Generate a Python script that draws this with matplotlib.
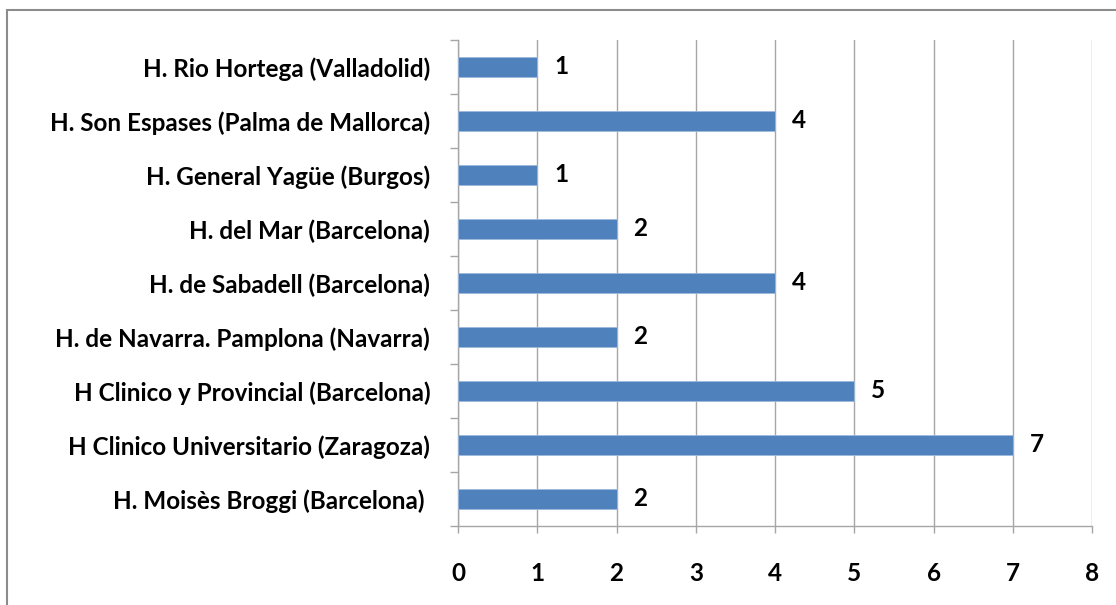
import matplotlib
matplotlib.use("Agg")
import matplotlib.pyplot as plt
from matplotlib.patches import Rectangle
import numpy as np

# hospitales, de arriba abajo tal como aparecen en el gráfico
hospitales = [
    "H. Rio Hortega (Valladolid)",
    "H. Son Espases (Palma de Mallorca)",
    "H. General Yagüe (Burgos)",
    "H. del Mar (Barcelona)",
    "H. de Sabadell (Barcelona)",
    "H. de Navarra. Pamplona (Navarra)",
    "H Clinico y Provincial (Barcelona)",
    "H Clinico Universitario (Zaragoza)",
    "H. Moisès Broggi (Barcelona) ",
]
casos = [1, 4, 1, 2, 4, 2, 5, 7, 2]
xticks = [0, 1, 2, 3, 4, 5, 6, 7, 8]

BLUE = "#4F81BD"
GRID = "#A6A6A6"
FONT = ["Lato", "DejaVu Sans"]
FS = 17.5

plt.rcParams["font.family"] = FONT

fig = plt.figure(figsize=(11.16, 6.05), dpi=100)
ax = fig.add_axes([458 / 1116, 1 - 526 / 605, (1092 - 458) / 1116, (526 - 40) / 605])

# marco gris de la figura (sale por la derecha y por abajo)
fig.patches.append(Rectangle((7 / 1116, -0.05), 1.2, 1 - 10 / 605 + 0.05,
                             transform=fig.transFigure, fill=False,
                             edgecolor="#8C8C8C", linewidth=1.5, zorder=0))

y = np.arange(len(hospitales))
ax.barh(y, casos, height=0.38, color=BLUE, edgecolor="#9DB9DC", linewidth=0.6, zorder=3)

for yi, v in zip(y, casos):
    ax.annotate(str(v), (v, yi), xytext=(12, 0), textcoords="offset points",
                ha="left", va="center", fontsize=FS, fontweight="bold", color="black")

ax.set_xlim(0, 8)
ax.set_ylim(len(hospitales) - 0.5, -0.5)
ax.set_xticks(xticks)
ax.set_xticklabels([str(t) for t in xticks], fontsize=FS, fontweight="bold")
ax.set_yticks(y)
ax.set_yticklabels(hospitales, fontsize=FS, fontweight="bold")
ax.set_yticks(np.arange(len(hospitales) + 1) - 0.5, minor=True)

ax.grid(axis="x", color=GRID, linewidth=1, zorder=0)
ax.set_axisbelow(True)
for s in ["top", "right"]:
    ax.spines[s].set_visible(False)
for s in ["left", "bottom"]:
    ax.spines[s].set_color(GRID)
    ax.spines[s].set_linewidth(1)

ax.tick_params(axis="y", which="major", length=0, pad=20)
ax.tick_params(axis="y", which="minor", length=6, color=GRID, width=1)
ax.tick_params(axis="x", which="major", length=5, color=GRID, width=1, pad=21)

fig.savefig("out.png", dpi=100)
